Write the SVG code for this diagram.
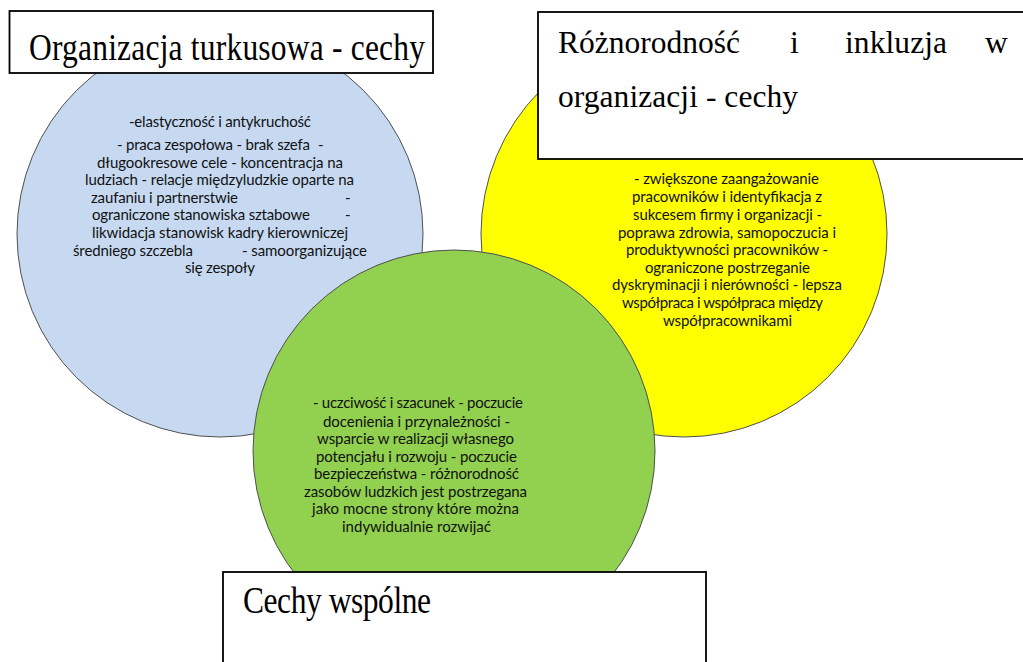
<svg xmlns="http://www.w3.org/2000/svg" width="1023" height="662" viewBox="0 0 1023 662">
<style>
.circ{stroke:#505050;stroke-width:1}
.box{fill:#fff;stroke:#000;stroke-width:1.8}
.body{font-family:Lato,"Open Sans","DejaVu Sans",sans-serif;font-size:15px;fill:#111}
.title{font-family:"Liberation Serif","Times New Roman",serif;font-size:31.5px;fill:#000}
</style>
<rect width="1023" height="662" fill="#fff"/>
<g id="connectors"></g>
<g id="blue-circle">
<circle class="circ" cx="220" cy="234" r="203" fill="#C6D9F1"/>
<text class="body" x="129" y="127.3" textLength="182">-elastyczność i antykruchość</text>
<text class="body" x="117" y="150" textLength="193">- praca zespołowa - brak szefa</text>
<text class="body" x="318" y="150">-</text>
<text class="body" x="97" y="167.7" textLength="246">długookresowe cele - koncentracja na</text>
<text class="body" x="85" y="185.3" textLength="269">ludziach - relacje międzyludzkie oparte na</text>
<text class="body" x="91" y="202.7" textLength="147">zaufaniu i partnerstwie</text>
<text class="body" x="345" y="202.7">-</text>
<text class="body" x="92" y="220.3" textLength="218">ograniczone stanowiska sztabowe</text>
<text class="body" x="345" y="220.3">-</text>
<text class="body" x="92" y="238" textLength="256">likwidacja stanowisk kadry kierowniczej</text>
<text class="body" x="73" y="255.7" textLength="120">średniego szczebla</text>
<text class="body" x="242" y="255.7" textLength="125">- samoorganizujące</text>
<text class="body" x="185" y="273.3" textLength="70">się zespoły</text>
</g>
<g id="yellow-circle">
<circle class="circ" cx="684" cy="234" r="203" fill="#FFFF00"/>
<text class="body" x="634" y="184.3" textLength="185">- zwiększone zaangażowanie</text>
<text class="body" x="632" y="202.3" textLength="190">pracowników i identyfikacja z</text>
<text class="body" x="633" y="220" textLength="189">sukcesem firmy i organizacji -</text>
<text class="body" x="618" y="237.7" textLength="218">poprawa zdrowia, samopoczucia i</text>
<text class="body" x="626" y="255.3" textLength="202">produktywności pracowników -</text>
<text class="body" x="645" y="272.7" textLength="165">ograniczone postrzeganie</text>
<text class="body" x="612" y="290" textLength="230">dyskryminacji i nierówności - lepsza</text>
<text class="body" x="622" y="307.7" textLength="201">współpraca i współpraca między</text>
<text class="body" x="663" y="325.7" textLength="129">współpracownikami</text>
</g>
<g id="green-circle">
<circle class="circ" cx="454" cy="451" r="201" fill="#92D050"/>
<text class="body" x="313" y="408.3" textLength="210">- uczciwość i szacunek - poczucie</text>
<text class="body" x="323" y="426.7" textLength="187">docenienia i przynależności -</text>
<text class="body" x="317" y="444" textLength="197">wsparcie w realizacji własnego</text>
<text class="body" x="316" y="461.7" textLength="201">potencjału i rozwoju - poczucie</text>
<text class="body" x="314" y="479.3" textLength="205">bezpieczeństwa - różnorodność</text>
<text class="body" x="304" y="496.7" textLength="223">zasobów ludzkich jest postrzegana</text>
<text class="body" x="312" y="514.3" textLength="207">jako mocne strony które można</text>
<text class="body" x="342" y="531.7" textLength="149">indywidualnie rozwijać</text>
</g>
<g id="title-turkusowa">
<rect class="box" x="9.5" y="11" width="423.5" height="62"/>
<text class="title" transform="translate(29,60) scale(1,1.22)" x="0" y="0" textLength="396">Organizacja turkusowa - cechy</text>
</g>
<g id="title-roznorodnosc">
<rect class="box" x="538" y="12" width="500" height="147"/>
<text class="title" x="558" y="53" textLength="182">Różnorodność</text>
<text class="title" x="790" y="53">i</text>
<text class="title" x="845" y="53" textLength="102">inkluzja</text>
<text class="title" x="985" y="53">w</text>
<text class="title" x="558" y="107" textLength="240">organizacji - cechy</text>
</g>
<g id="title-wspolne">
<rect class="box" x="223" y="572" width="483" height="100"/>
<text class="title" transform="translate(243,613) scale(1,1.22)" x="0" y="0" textLength="188">Cechy wspólne</text>
</g>
</svg>
